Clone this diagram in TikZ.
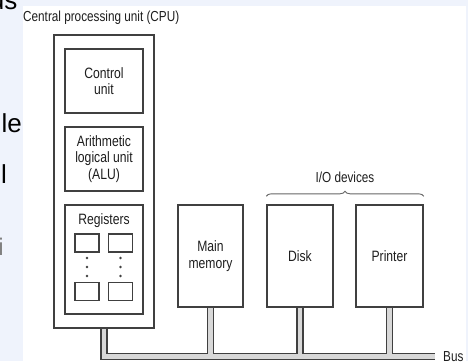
\documentclass[tikz,border=0pt]{standalone}
\usepackage{fontspec}
\setmainfont{Liberation Sans}[FakeStretch=0.81]
\newfontfamily\pagefont{Liberation Sans}
\usetikzlibrary{decorations.pathreplacing}
\definecolor{pagebg}{HTML}{EFF3FC}
\definecolor{linegray}{HTML}{404040}
\definecolor{busfill}{HTML}{D8D8D8}
\definecolor{inkgray}{HTML}{1E1E1E}
\begin{document}
\begin{tikzpicture}[x=1pt,y=-1pt,
    unit/.style={draw=linegray,line width=1.4pt,inner sep=0pt,align=center,
      text=inkgray,font=\fontsize{15}{16.5}\selectfont},
    reg/.style={draw=linegray,line width=1.4pt,inner sep=0pt,
      minimum width=24pt,minimum height=18pt},
    caption/.style={inner sep=0pt,text=inkgray,font=\fontsize{14.5}{16}\selectfont}]
  % page behind the figure
  \fill[pagebg] (0,0) rectangle (468,361);
  \begin{scope}
    \clip (0,0) rectangle (23,361);
    \node[anchor=base east,inner sep=0pt,font=\pagefont\fontsize{26}{26}\selectfont] (frag1) at (17.5,9) {us};
    \node[anchor=base east,inner sep=0pt,font=\pagefont\fontsize{26}{26}\selectfont] (frag2) at (22,132) {le};
    \node[anchor=base west,inner sep=0pt,font=\pagefont\fontsize{26}{26}\selectfont] (frag3) at (1,183) {l};
    \node[anchor=base east,inner sep=0pt,text=gray,font=\pagefont\fontsize{24}{24}\selectfont] (frag4) at (4,255) {i};
  \end{scope}
  \fill[white] (23,6) rectangle (466,361);

  % CPU
  \node[caption,anchor=west] (cpulabel) at (23,18) {Central processing unit (CPU)};
  \node[unit,minimum width=100pt,minimum height=293pt] (cpu) at (104,181.5) {};
  \node[unit,minimum width=78pt,minimum height=64pt] (ctrl) at (104,81) {Control\\unit};
  \node[unit,minimum width=78pt,minimum height=64pt] (alu) at (104,159) {Arithmetic\\logical unit\\(ALU)};
  \node[unit,minimum width=78pt,minimum height=109pt] (regs) at (104,259.5) {};
  \node[caption,font=\fontsize{15}{16.5}\selectfont] (regslabel) at ([yshift=-16pt]regs.north) {Registers};
  \node[reg] (r1) at (87,243) {};
  \node[reg] (r2) at (120.5,243) {};
  \node[reg] (r3) at (87,291.5) {};
  \node[reg] (r4) at (120.5,291.5) {};
  \foreach \x in {87,120.5}
    \foreach \y in {258,267,276}
      \fill[linegray] (\x,\y) circle (1.3pt);

  % memory and I/O
  \node[unit,minimum width=65pt,minimum height=102pt] (mem) at (210.5,256) {Main\\memory};
  \node[unit,minimum width=66pt,minimum height=102pt] (disk) at (300,256) {Disk};
  \node[unit,minimum width=67pt,minimum height=102pt] (printer) at (389.5,256) {Printer};
  \draw[decorate,decoration={brace,amplitude=5pt},gray!80!black,line width=0.9pt]
    ([yshift=8pt]disk.north west) -- ([yshift=8pt]printer.north east);
  \node[caption] (iolabel) at (345,177) {I/O devices};

  % bus
  \coordinate (busL) at (104,356.5);
  \coordinate (busR) at (435,356.5);
  \foreach \w/\c in {7.4pt/linegray,4.6pt/busfill}
    \draw[line width=\w,\c]
      ([yshift=-0.7pt]cpu.south) -- (busL) -- (busR)
      ([yshift=-0.7pt]mem.south) -- (mem.south |- busL)
      ([yshift=-0.7pt]disk.south) -- (disk.south |- busL)
      ([yshift=-0.7pt]printer.south) -- (printer.south |- busL);
  \node[caption,anchor=west] (buslabel) at ([xshift=8pt]busR) {Bus};
\end{tikzpicture}
\end{document}
